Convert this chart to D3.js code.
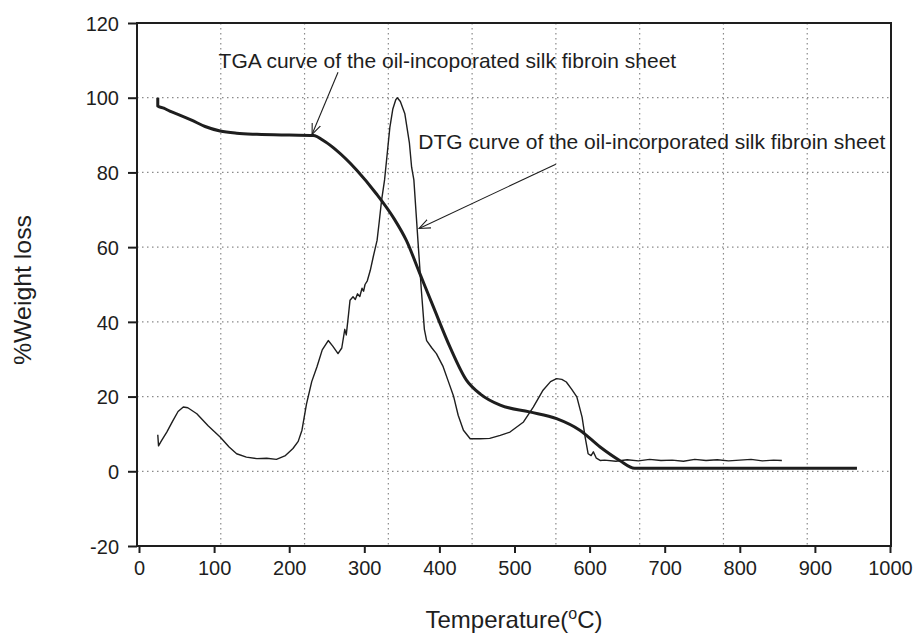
<!DOCTYPE html>
<html>
<head>
<meta charset="utf-8">
<script src="https://cdn.jsdelivr.net/npm/d3@7"></script>
<style>
  body { margin: 0; background: #fff; }
  svg text { font-family: "Liberation Sans", Arial, sans-serif; fill: #1e1e1e; }
</style>
</head>
<body>
<svg id="chart" width="917" height="633"></svg>
<script>
// TGA curve (thick line)
var tgaTemp   = [25, 25, 33, 41, 55, 70, 88, 108, 130, 157, 200, 232, 248, 263, 290, 316, 340, 356, 374, 392, 414, 436, 455, 481, 520, 556, 587, 614, 640, 660, 700, 800, 956];
var tgaWeight = [100, 97.8, 97.2, 96.4, 95.3, 94, 92.3, 91.1, 90.5, 90.2, 90, 89.9, 88.2, 85.9, 80.6, 74.3, 67.5, 61.8, 52.9, 44, 33.3, 24.4, 20.6, 17.7, 15.9, 14.1, 11, 6.5, 2.9, 0.8, 0.8, 0.8, 0.8];

// DTG curve (thin line)
var dtgTemp  = [25, 26, 30, 37, 45, 52, 59, 65, 77, 92, 108, 120, 130, 143, 157, 170, 183, 195, 205, 212, 217, 223, 230, 237, 244, 252, 258, 265, 270, 274, 276, 279, 281, 285, 288, 291, 294, 297, 299, 301, 304, 308, 312, 317, 320, 323, 327, 331, 334, 338, 342, 344, 348, 354, 360, 363, 366, 369, 372, 376, 380, 383, 390, 396, 405, 412, 419, 425, 432, 441, 454, 467, 481, 494, 512, 525, 538, 548, 556, 563, 569, 576, 583, 590, 594, 598, 602, 605, 609, 614, 620, 635, 650, 665, 680, 695, 710, 725, 740, 755, 770, 785, 800, 815, 830, 845, 856];
var dtgValue = [9.8, 6.8, 8.2, 10.5, 13.5, 16, 17.2, 17, 15.4, 12.2, 9.2, 6.5, 4.7, 3.8, 3.4, 3.5, 3.2, 4.2, 6.1, 8, 11, 18, 24, 28, 32.5, 35, 33.5, 31.5, 33, 38, 36.5, 42, 45.8, 46.7, 46, 47.5, 46.8, 49, 48.2, 50, 51, 53.8, 57.5, 61.8, 67, 72.5, 78, 86, 92, 97, 99.5, 100, 99, 95.7, 88, 81.4, 78, 69, 60, 48.4, 38, 35, 33, 31.5, 28, 24, 20, 15, 11, 8.7, 8.7, 8.8, 9.6, 10.5, 13.2, 17.2, 21.7, 24, 24.8, 24.6, 23.9, 22, 19.9, 14.5, 9.2, 4.7, 4.2, 5.2, 3.5, 2.9, 3.0, 2.7, 3.1, 2.8, 3.2, 2.9, 3.0, 2.7, 3.2, 2.9, 3.1, 2.8, 3.0, 3.2, 2.8, 3.0, 2.9];

var xTicks = [0, 100, 200, 300, 400, 500, 600, 700, 800, 900, 1000];
var yTicks = [-20, 0, 20, 40, 60, 80, 100, 120];
var yGrid  = [0, 20, 40, 60, 80, 100];

// annotation labels and arrows, in data units
var noteText  = ["TGA curve of the oil-incoporated silk fibroin sheet", "DTG curve of the oil-incorporated silk fibroin sheet"];
var noteAt    = [[106, 108], [372, 86.3]];
var arrowFrom = [[265, 106.8], [555, 82.2]];
var arrowTo   = [[230.5, 90.2], [373, 65]];

var svg = d3.select('#chart');
var ink = '#1e1e1e';

var frame = {left: 137, right: 891, top: 23, bottom: 546};

var x = d3.scaleLinear().domain([0, 1000]).range([139, 890]);
var y = d3.scaleLinear().domain([-20, 120]).range([546, 23]);
// the scanned figure has 9 vertical grid columns that don't follow the ticks
var gx = d3.scaleLinear().domain([0, 9]).range([frame.left, frame.right]);

// grid
svg.append('g').selectAll('line.hg').data(yGrid).enter().append('line')
	.attr('x1', frame.left).attr('x2', frame.right)
	.attr('y1', function(d){ return y(d); }).attr('y2', function(d){ return y(d); })
	.attr('stroke', '#8a8a8a').attr('stroke-width', 1.2).attr('stroke-dasharray', '1.5,3.5');

svg.append('g').selectAll('line.vg').data(d3.range(1, 9)).enter().append('line')
	.attr('x1', function(d){ return gx(d); }).attr('x2', function(d){ return gx(d); })
	.attr('y1', frame.top).attr('y2', frame.bottom)
	.attr('stroke', '#8a8a8a').attr('stroke-width', 1.2).attr('stroke-dasharray', '1.5,3.5');

// frame
svg.append('rect')
	.attr('x', frame.left).attr('y', frame.top)
	.attr('width', frame.right - frame.left).attr('height', frame.bottom - frame.top)
	.attr('fill', 'none').attr('stroke', ink).attr('stroke-width', 2);

// axes (plain hyphen for the negative label, as in the original)
var xAxis = svg.append('g').attr('transform', 'translate(0,' + frame.bottom + ')')
	.call(d3.axisBottom(x).tickValues(xTicks).tickSize(7).tickPadding(8).tickFormat(String));
var yAxis = svg.append('g').attr('transform', 'translate(' + frame.left + ',0)')
	.call(d3.axisLeft(y).tickValues(yTicks).tickSize(9).tickPadding(9).tickFormat(String));

[xAxis, yAxis].forEach(function(ax){
	ax.select('.domain').remove();
	ax.selectAll('line').attr('stroke', ink).attr('stroke-width', 2);
	ax.selectAll('text').attr('font-size', 20).attr('fill', ink)
		.style('font-family', '"Liberation Sans", Arial, sans-serif');
});
yAxis.selectAll('text').attr('dy', '0.36em');

// curves
var tga = d3.zip(tgaTemp, tgaWeight);
var dtg = d3.zip(dtgTemp, dtgValue);

var line = d3.line()
	.x(function(d){ return x(d[0]); })
	.y(function(d){ return y(d[1]); });

svg.append('path').datum(dtg)
	.attr('d', line.curve(d3.curveLinear))
	.attr('fill', 'none').attr('stroke', ink).attr('stroke-width', 1.4)
	.attr('stroke-linejoin', 'round');

svg.append('path').datum(tga)
	.attr('d', line.curve(d3.curveMonotoneX))
	.attr('fill', 'none').attr('stroke', ink).attr('stroke-width', 3)
	.attr('stroke-linejoin', 'round');

// annotations
svg.append('defs').append('marker')
	.attr('id', 'openhead').attr('viewBox', '0 0 12 10')
	.attr('refX', 11).attr('refY', 5)
	.attr('markerWidth', 12).attr('markerHeight', 10)
	.attr('markerUnits', 'userSpaceOnUse').attr('orient', 'auto')
	.append('path').attr('d', 'M0,0.5 L11,5 L0,9.5')
	.attr('fill', 'none').attr('stroke', ink).attr('stroke-width', 1.1);

noteText.forEach(function(t, i){
	svg.append('text')
		.attr('x', x(noteAt[i][0])).attr('y', y(noteAt[i][1]))
		.attr('font-size', 21).text(t);
	svg.append('line')
		.attr('x1', x(arrowFrom[i][0])).attr('y1', y(arrowFrom[i][1]))
		.attr('x2', x(arrowTo[i][0])).attr('y2', y(arrowTo[i][1]))
		.attr('stroke', ink).attr('stroke-width', 1.1)
		.attr('marker-end', 'url(#openhead)');
});

// axis titles
var xt = svg.append('text')
	.attr('x', 514).attr('y', 628)
	.attr('text-anchor', 'middle').attr('font-size', 24);
xt.append('tspan').text('Temperature(');
xt.append('tspan').attr('font-size', 16).attr('dy', -9).text('o');
xt.append('tspan').attr('dy', 9).text('C)');

svg.append('text')
	.attr('transform', 'translate(31,290) rotate(-90)')
	.attr('text-anchor', 'middle').attr('font-size', 24)
	.attr('textLength', 150).attr('lengthAdjust', 'spacingAndGlyphs')
	.text('%Weight loss');
</script>
</body>
</html>
